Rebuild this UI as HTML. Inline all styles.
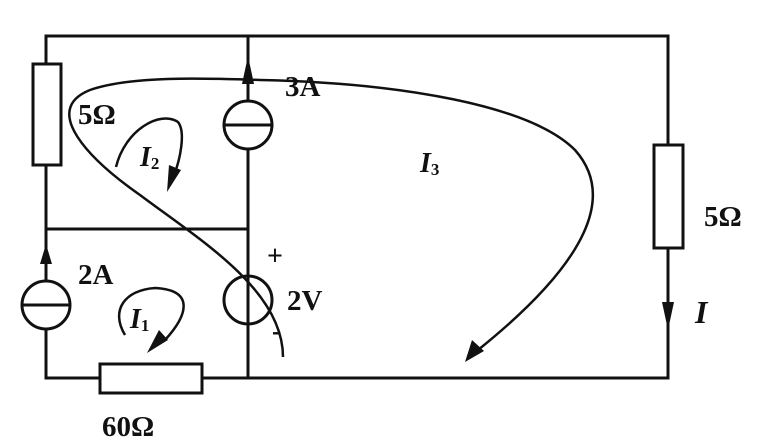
<!DOCTYPE html>
<html><head><style>body{margin:0;background:#fff}svg{display:block}text{font-family:"Liberation Serif",serif;font-weight:bold;fill:#111}</style></head><body>
<svg width="784" height="447" viewBox="0 0 784 447" xmlns="http://www.w3.org/2000/svg">
<g stroke="#111" stroke-width="3" fill="none">
<path d="M46,63 V36 H668 V145 M668,248 V378 H202 M100,378 H46 V330 M46,280 V165"/>
<path d="M46,229 H248 M248,36 V100 M248,150 V276 M248,324 V378"/>
<rect x="33" y="64" width="28" height="101" fill="#fff"/>
<rect x="654" y="145" width="29" height="103" fill="#fff"/>
<rect x="100" y="364" width="102" height="29" fill="#fff"/>
<circle cx="46" cy="305" r="24" fill="#fff"/><line x1="22" y1="305" x2="70" y2="305"/>
<circle cx="248" cy="125" r="24" fill="#fff"/><line x1="224" y1="125" x2="272" y2="125"/>
<circle cx="248" cy="300" r="24" fill="#fff"/><line x1="248" y1="276" x2="248" y2="324"/>
</g>
<g fill="#111">
<polygon points="46,244 40,264 52,264"/>
<polygon points="248,56 242,84 254,84"/>
<polygon points="668,330 662,302 674,302"/>
</g>
<g stroke="#111" stroke-width="2.5" fill="none">
<path d="M283,357 C283,290 200,240 140,195 C90,160 40,110 90,90 C130,76 200,78 260,80 C400,83 530,105 575,150 C615,195 590,260 478,350"/>
<path d="M116,167 C125,130 160,110 178,122 C186,132 180,160 174,175"/>
<path d="M125,335 C110,310 125,290 155,288 C195,290 188,315 165,340"/>
</g>
<g fill="#111">
<polygon points="465,362 472,340 484,351"/>
<polygon points="167,192 169,165 181,170"/>
<polygon points="147,353 159,330 168,340"/>
</g>
<text x="78" y="124" font-size="29">5Ω</text>
<text x="285" y="96" font-size="29">3A</text>
<text x="78" y="284" font-size="29">2A</text>
<text x="287" y="310" font-size="29">2V</text>
<text x="267" y="265" font-size="28">+</text>
<text x="272" y="340" font-size="28">-</text>
<text x="102" y="436" font-size="29">60Ω</text>
<text x="704" y="226" font-size="29">5Ω</text>
<text x="695" y="323" font-size="32" font-style="italic">I</text>
<text x="140" y="166" font-size="28" font-style="italic">I<tspan font-size="17" font-style="normal" dy="3">2</tspan></text>
<text x="130" y="328" font-size="28" font-style="italic">I<tspan font-size="17" font-style="normal" dy="3">1</tspan></text>
<text x="420" y="172" font-size="28" font-style="italic">I<tspan font-size="17" font-style="normal" dy="3">3</tspan></text>
</svg>
</body></html>
